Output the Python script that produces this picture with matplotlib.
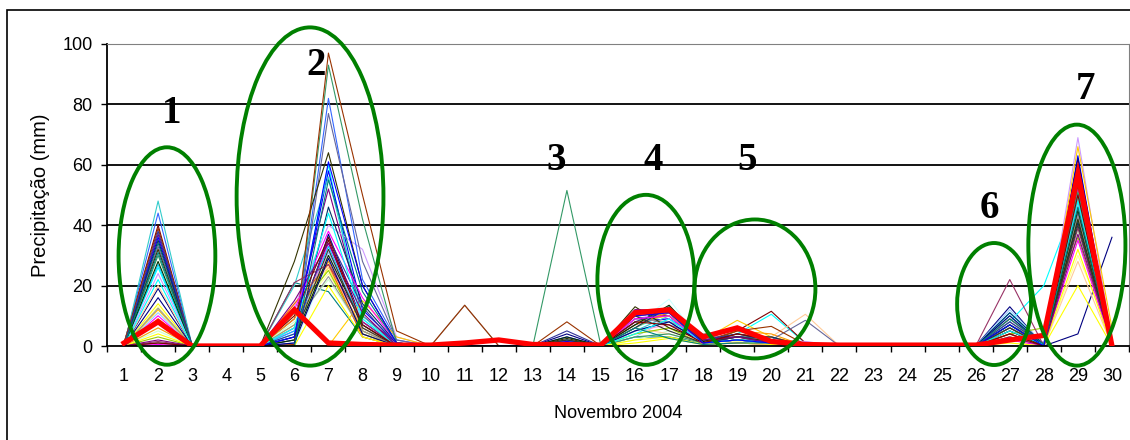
import numpy as np
import matplotlib
matplotlib.use("Agg")
from matplotlib import pyplot as plt
from matplotlib.patches import Ellipse, Rectangle

# Precipitação diária (mm) por posto, novembro 2004
# cada lista tem um valor por posto (40 postos); dias ausentes = 0
dias = list(range(1, 31))

d01 = [0, 0, 0, 0.5, 0, 1, 0, 0, 0, 0, 0, 0, 0, 0, 0, 0, 0.5, 0, 0, 0,
       0, 0, 0, 0, 0, 0, 0, 0, 1, 0, 0, 0, 0, 0, 0, 0, 0, 0, 0, 0]
d02 = [19, 10, 14, 26, 37, 40, 34, 36, 27, 6, 5, 13, 11, 9, 24, 20, 44, 48, 3, 12,
       6, 9, 33, 12.5, 35, 30, 28, 32, 39, 1.5, 38, 1, 16, 0.5, 4, 22, 2, 1, 31, 8.5]
d06 = [2, 5, 7, 4, 9, 6, 21, 3, 5, 0, 8, 10, 6, 11, 13, 14, 1, 20, 11, 0,
       9, 14, 0, 7, 0, 0, 2, 28, 0.5, 21, 4, 3, 1, 12, 0, 6, 15, 10, 0, 3]
d07 = [37, 34, 26, 60, 52, 35, 18, 58, 33, 28, 22, 24, 31, 30, 40, 26, 82, 56, 25, 0,
       28, 27, 77, 23, 46, 93, 30, 64, 97, 27, 36, 32, 29, 38, 20, 44, 34, 36, 55, 61]
d08 = [8, 8, 4, 5, 10, 6, 3, 12, 7, 3, 5, 6, 9, 4, 32, 6, 22, 10, 4, 15,
       5, 3, 28, 5, 14, 42, 7, 20, 50, 8, 13, 6, 4, 16, 3, 9, 11, 7, 18, 20]
d09 = [0.5, 0, 0, 0, 1, 0, 0, 1, 0, 0, 0, 0, 0, 0, 3, 0, 2, 0, 0, 3,
       0, 0, 2, 0, 1, 1, 0, 1, 5, 0, 0, 0, 0, 1, 0, 0, 0, 0, 1, 1]
d11 = [0, 0, 0, 0, 0, 0, 0, 0, 0, 0, 0, 0, 0, 0, 0, 0, 0, 0, 0, 0,
       0, 0, 0, 13.5, 0, 0, 0, 0, 13.5, 0, 0, 0, 0, 0, 0, 0, 0, 0, 0, 0]
d14 = [4, 0.5, 0, 1.5, 1, 0.5, 1, 3, 2, 0, 0, 0, 0.5, 0, 0.5, 0, 1, 0.5, 0, 0.5,
       0, 0.5, 1.5, 1, 2, 51.5, 3, 2.5, 8, 0.5, 5, 2, 1, 0, 0, 0.5, 1, 0.5, 1, 1.5]
d16 = [9, 8, 1, 6, 11, 10, 3, 8, 5, 7, 2, 4, 3, 5, 9, 6, 7, 5, 4, 8,
       6, 7, 10, 9, 6, 3, 7, 13, 11, 12, 8, 10, 5, 9, 2, 4, 12, 8, 6, 10]
d17 = [10, 9, 2.5, 11, 10, 11, 3, 9, 8, 15.5, 5, 6, 9, 7, 11, 4, 12, 10, 6, 10,
       12, 11, 7, 8, 13, 4, 13.5, 6, 12, 11, 12, 5, 8, 10, 3, 9, 12, 7, 2.5, 11]
d18 = [1, 1, 0.5, 2, 1, 1.5, 1, 2, 1, 0.5, 0.5, 1, 1, 1, 1, 1, 2, 1, 0.5, 2,
       1, 1, 3, 4, 1, 1, 1.5, 2, 1, 1, 2, 1, 1, 0.5, 0.5, 1, 2, 1, 0.5, 1]
d19 = [3, 2, 1, 4, 3, 5, 2, 3, 2, 1, 1, 1.5, 2, 2, 3, 2, 3, 2, 1, 8.5,
       5, 4, 3, 5, 3, 2, 4, 3, 5, 2, 4, 3, 2, 1, 1, 2, 3, 4, 1, 2]
d20 = [2, 1, 0.5, 10.5, 2, 11.5, 3, 2, 1.5, 1, 0.5, 1, 1, 1, 2, 3, 2, 3, 0.5, 3,
       4, 3, 2, 2, 3, 1, 2, 1.5, 6.5, 1, 2, 1, 1, 0.5, 0.5, 1, 1, 2, 1, 1]
d21 = [0.5, 0, 0, 1, 0.5, 1, 0, 0.5, 0, 0, 0, 0, 0, 0, 1.5, 10.5, 0.5, 0, 0, 0.5,
       0, 0, 8.5, 0, 0, 0, 0, 0, 0.5, 0, 0, 0, 0, 0, 0, 0, 0, 0, 0, 0]
d27 = [13, 4, 2, 8, 5, 3, 7, 6, 11, 4, 3, 2, 12, 3, 5, 4, 9, 10, 4, 3,
       6, 9, 7, 8, 11, 6, 7, 5, 4, 22, 8, 6, 10, 2, 1, 5, 3, 4, 9, 7]
d28 = [0, 0, 0, 20, 0, 0, 1, 0, 0.5, 0, 0, 0, 0.5, 0, 1, 0, 0, 0.5, 6, 0,
       0, 0.5, 0, 0, 0.5, 0, 0, 0, 0, 0, 0.5, 0, 0, 0, 0, 0.5, 0, 0, 0.5, 0]
d29 = [4, 52, 20, 50, 46, 48, 44, 63, 42, 45, 38, 30, 47, 40, 69, 28, 55, 49, 36, 66,
       58, 54, 44, 43, 41, 51, 45, 42, 53, 39, 60, 40, 62, 35, 32, 48, 37, 50, 46, 57]
d30 = [36, 0, 0, 1, 0, 0, 0, 0, 0, 0, 0, 3, 0, 0, 2, 0, 0, 0, 0, 6,
       0, 1, 0, 0, 0, 0, 0, 0, 0, 0, 0, 0, 0, 0, 0, 0, 1, 0, 0, 0]

chuva = {1: d01, 2: d02, 6: d06, 7: d07, 8: d08, 9: d09, 11: d11, 14: d14,
         16: d16, 17: d17, 18: d18, 19: d19, 20: d20, 21: d21,
         27: d27, 28: d28, 29: d29, 30: d30}

# série em destaque (linha vermelha grossa)
media = [1, 8, 0, 0, 0, 12, 1, 0.5, 0.3, 0.3, 1, 2, 0.5, 0.5, 0.3,
         11, 12, 3, 6, 1.5, 0.5, 0.3, 0.3, 0.3, 0.3, 0.3, 2, 3.5, 57, 0]

# paleta padrão do Excel
cores = ["#000080", "#FF00FF", "#FFFF00", "#00FFFF", "#800080", "#800000", "#008080",
         "#0000FF", "#00CCFF", "#CCFFFF", "#CCFFCC", "#FFFF99", "#99CCFF", "#FF99CC",
         "#CC99FF", "#FFCC99", "#3366FF", "#33CCCC", "#99CC00", "#FFCC00", "#FF9900",
         "#FF6600", "#666699", "#969696", "#003366", "#339966", "#003300", "#333300",
         "#993300", "#993366", "#333399", "#333333", "#000080", "#FF00FF", "#FFFF00",
         "#00FFFF", "#800080", "#800000", "#008080", "#0000FF"]

# eventos: (rótulo, x do texto, y do texto, centro x, centro y, largura, altura)
eventos = [("1", 2.41, 77, 2.26, 29.8, 2.84, 72),
           ("2", 6.63, 93, 6.46, 49.5, 4.31, 112),
           ("3", 13.68, 61.3, None, None, None, None),
           ("4", 16.53, 61.3, 16.32, 21.9, 2.85, 56.3),
           ("5", 19.29, 61.3, 19.52, 18.9, 3.55, 46),
           ("6", 26.39, 45.4, 26.54, 13.9, 2.17, 40.4),
           ("7", 29.21, 85, 28.97, 33.4, 2.85, 79.8)]

n_postos = len(d02)
matriz = np.zeros((n_postos, len(dias)))
for dia, vals in chuva.items():
    matriz[:, dia - 1] = vals

fig = plt.figure(figsize=(11.3, 4.4), dpi=100)
ax = fig.add_axes([107 / 1130, 94 / 440, 1022 / 1130, 302 / 440])

for i in range(n_postos):
    ax.plot(dias, matriz[i], color=cores[i], lw=0.8, zorder=2)
ax.plot(dias, media, color="#FF0000", lw=3.8, zorder=3, solid_joinstyle="miter")

for rot, tx, ty, cx, cy, w, h in eventos:
    if cx is not None:
        ax.add_patch(Ellipse((cx, cy), w, h, fill=False, edgecolor="#008000",
                             lw=2.8, clip_on=False, zorder=4))
    ax.text(tx, ty, rot, ha="center", va="center", fontsize=28, fontweight="bold",
            family="Liberation Serif", zorder=5)

ax.set_xlim(0.5, 30.5)
ax.set_ylim(0, 100)
ax.set_xticks(dias)
ax.set_xticks(np.arange(0.5, 31, 1), minor=True)
ax.set_yticks(range(0, 101, 20))
ax.tick_params(axis="x", which="major", length=0, pad=16, labelsize=13)
ax.tick_params(axis="x", which="minor", length=4.5, width=1, direction="out")
ax.tick_params(axis="y", length=4.5, width=1, pad=6, labelsize=13)

for v in (20, 40, 60, 80):
    ax.axhline(v, color="black", lw=1.3, zorder=1)
ax.spines["top"].set_color("#808080")
ax.spines["right"].set_color("#808080")
ax.spines["left"].set_linewidth(1.3)
ax.spines["bottom"].set_linewidth(1.3)

for t in ax.get_xticklabels() + ax.get_yticklabels():
    t.set_family("Liberation Sans")
ax.set_xlabel("Novembro 2004", fontsize=13, family="Liberation Sans", labelpad=14)
ax.set_ylabel("Precipitação (mm)", fontsize=14.5, family="Liberation Sans", labelpad=9)

# moldura externa do gráfico
fig.add_artist(Rectangle((7 / 1130, -0.1), 2, 1.1 - 10 / 440, transform=fig.transFigure,
                         fill=False, edgecolor="black", lw=1.2))

fig.savefig("out.png", dpi=100)
